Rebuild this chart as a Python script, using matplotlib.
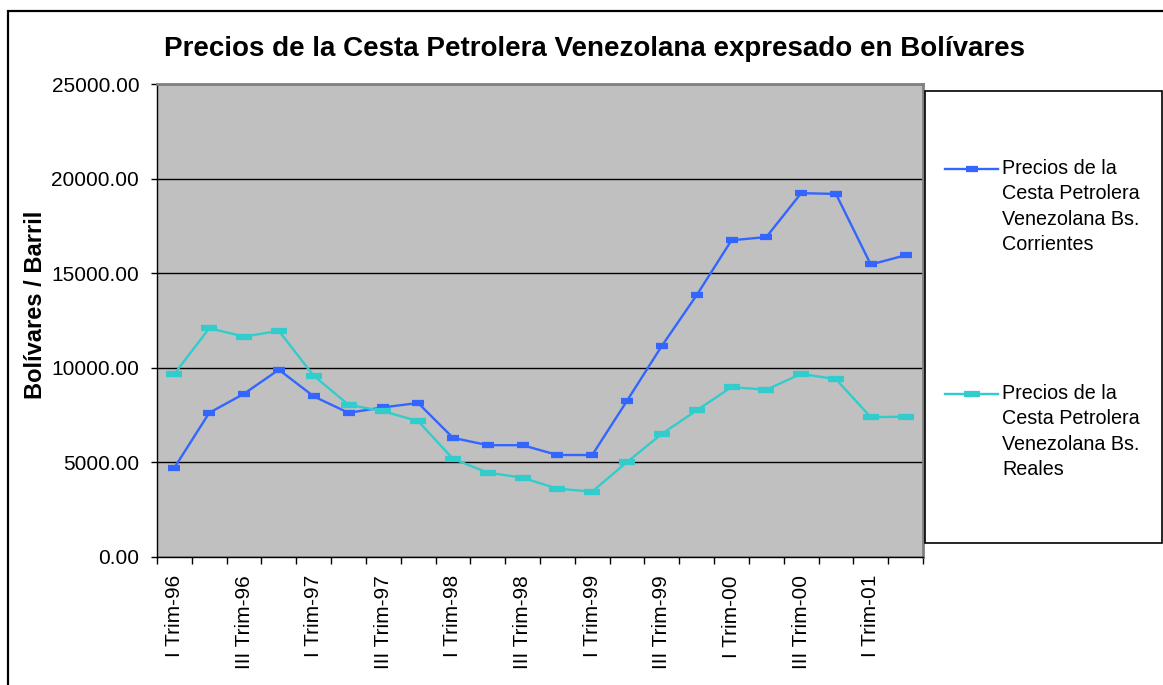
import numpy as np
import matplotlib
matplotlib.use("Agg")
import matplotlib.pyplot as plt
from matplotlib.patches import Rectangle
from matplotlib.legend_handler import HandlerLine2D

plt.rcParams['font.family'] = ['Liberation Sans', 'DejaVu Sans']

categories = [
    "I Trim-96", "II Trim-96", "III Trim-96", "IV Trim-96",
    "I Trim-97", "II Trim-97", "III Trim-97", "IV Trim-97",
    "I Trim-98", "II Trim-98", "III Trim-98", "IV Trim-98",
    "I Trim-99", "II Trim-99", "III Trim-99", "IV Trim-99",
    "I Trim-00", "II Trim-00", "III Trim-00", "IV Trim-00",
    "I Trim-01", "II Trim-01",
]
corrientes = [4720, 7620, 8630, 9900, 8490, 7620, 7910, 8140, 6300, 5910, 5910,
              5390, 5390, 8260, 11160, 13840, 16740, 16910, 19230, 19190, 15460, 15950]
reales = [9680, 12090, 11650, 11950, 9580, 8050, 7700, 7180, 5190, 4460, 4190,
          3610, 3460, 5020, 6510, 7750, 8980, 8840, 9680, 9400, 7390, 7420]
label_corr = "Precios de la\nCesta Petrolera\nVenezolana Bs.\nCorrientes"
label_real = "Precios de la\nCesta Petrolera\nVenezolana Bs.\nReales"
title = "Precios de la Cesta Petrolera Venezolana expresado en Bolívares"
ylabel = "Bolívares / Barril"
yticks = [0, 5000, 10000, 15000, 20000, 25000]

W, H = 1163, 685
fig = plt.figure(figsize=(W / 100, H / 100), dpi=100)
fig.patch.set_facecolor('white')

def fx(px):
    return px / W

def fy(py):
    return 1 - py / H

L, R, T, B = 157, 923, 84, 557
ax = fig.add_axes([fx(L), fy(B), fx(R - L), (B - T) / H])
ax.set_facecolor('#C0C0C0')

x = np.arange(len(categories))
blue = '#3366FF'
teal = '#33CCCC'
l1, = ax.plot(x, corrientes, color=blue, lw=1.7, marker='_', ms=8, mew=4.5,
              label=label_corr, zorder=3)
l2, = ax.plot(x, reales, color=teal, lw=1.7, marker='_', ms=11, mew=4.5,
              label=label_real, zorder=3)

ax.set_xlim(-0.5, len(categories) - 0.5)
ax.set_ylim(0, 25000)
ax.set_yticks(yticks)
ax.set_yticklabels([f"{v:.2f}" for v in yticks], fontsize=15)
ax.yaxis.grid(True, color='black', lw=1)
ax.set_axisbelow(True)
ax.tick_params(axis='y', direction='out', length=4.3, width=1, pad=8.5)

# labels at category centers, tick marks at boundaries
ax.set_xticks(x)
ax.set_xticklabels([c if i % 2 == 0 else "" for i, c in enumerate(categories)],
                   rotation=90, fontsize=15)
ax.tick_params(axis='x', which='major', length=0, pad=13)
ax.set_xticks(np.arange(-0.5, len(categories), 1), minor=True)
ax.tick_params(axis='x', which='minor', direction='out', length=5, width=1)

for s in ['top', 'right']:
    ax.spines[s].set_color('#808080')
    ax.spines[s].set_linewidth(2)
for s in ['left', 'bottom']:
    ax.spines[s].set_color('black')
    ax.spines[s].set_linewidth(1)

fig.text(fx(594), fy(49), title, ha='center', va='center', fontsize=20,
         fontweight='bold')
fig.text(fx(36), fy(305), ylabel, ha='center', va='center', rotation=90,
         fontsize=17, fontweight='bold')

# outer chart border
fig.add_artist(Rectangle((fx(8), fy(H + 20)), 1.2, (H + 20 - 11) / H,
                         transform=fig.transFigure, fill=False,
                         edgecolor='black', lw=1.6, clip_on=False))

# legend box
fig.add_artist(Rectangle((fx(925), fy(543)), fx(1162 - 925), (543 - 91) / H,
                         transform=fig.transFigure, facecolor='white',
                         edgecolor='black', lw=1.2, zorder=1))


class TopHandler(HandlerLine2D):
    def __init__(self, shift, **kw):
        super().__init__(**kw)
        self.shift = shift

    def create_artists(self, legend, orig_handle, xdescent, ydescent, width,
                       height, fontsize, trans):
        arts = super().create_artists(legend, orig_handle, xdescent, ydescent,
                                      width, height, fontsize, trans)
        for a in arts:
            a.set_ydata(np.asarray(a.get_ydata()) + self.shift)
        return arts


leg = fig.legend(handles=[l1, l2], loc='upper left',
                 bbox_to_anchor=(fx(945), fy(159)), frameon=False,
                 fontsize=14.2, handlelength=2.7, handletextpad=0.2,
                 labelspacing=6.6, borderpad=0, borderaxespad=0,
                 handler_map={l1: TopHandler(27.5, numpoints=1),
                              l2: TopHandler(27.5, numpoints=1)})
for t in leg.get_texts():
    t.set_linespacing(1.42)
leg.set_zorder(5)

fig.savefig('out.png', dpi=100, facecolor='white')
